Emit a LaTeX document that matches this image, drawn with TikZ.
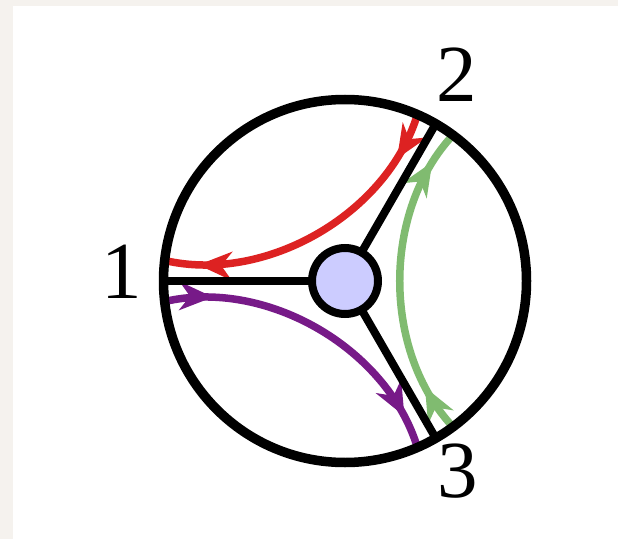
\documentclass[tikz,border=0pt]{standalone}
\usepackage{fontspec}
\setmainfont{Liberation Serif}
\usetikzlibrary{decorations.markings}
\definecolor{bgout}{HTML}{F5F2EE}
\definecolor{redp}{HTML}{DD2222}
\definecolor{greenp}{HTML}{80BB70}
\definecolor{purplep}{HTML}{771A88}
\definecolor{hubfill}{HTML}{CCCCFF}
\tikzset{
  flow/.style={line width=7.5pt, postaction={decorate},
    decoration={markings,
      mark=at position 0.15 with {\fill (1pt,0pt) -- (-33pt,14.5pt) -- (-22pt,0pt) -- (-33pt,-14.5pt) -- cycle;},
      mark=at position 0.89 with {\fill (1pt,0pt) -- (-33pt,14.5pt) -- (-22pt,0pt) -- (-33pt,-14.5pt) -- cycle;}}},
  ringstyle/.style={circle, draw=black, line width=9.5pt, minimum size=363pt, inner sep=0pt},
  hubstyle/.style={circle, draw=black, fill=hubfill, line width=8pt, minimum size=66pt, inner sep=0pt},
  spoke/.style={draw=black, line width=8pt},
  lbl/.style={inner sep=0pt, font=\fontsize{81}{81}\selectfont}
}
\begin{document}
\begin{tikzpicture}[x=1pt,y=1pt]
\fill[bgout] (0,0) rectangle (618,539);
\fill[white] (13,0) rectangle (618,533);
\coordinate (c) at (345,258);
% flows
\begin{scope}[shift={(c)},rotate=0]
  \coordinate (gs) at (-53.5:181.5);
  \coordinate (ge) at (53.5:181.5);
  \draw[flow,greenp] (gs) .. controls (37,-70) and (37,70) .. (ge);
\end{scope}
\begin{scope}[shift={(c)},rotate=120]
  \coordinate (rs) at (-53.5:181.5);
  \coordinate (re) at (53.5:181.5);
  \draw[flow,redp] (rs) .. controls (37,-70) and (37,70) .. (re);
\end{scope}
\begin{scope}[shift={(c)},rotate=240]
  \coordinate (ps) at (-53.5:181.5);
  \coordinate (pe) at (53.5:181.5);
  \draw[flow,purplep] (ps) .. controls (37,-70) and (37,70) .. (pe);
\end{scope}
% spokes
\begin{scope}[shift={(c)}]
  \coordinate (p1) at (180:181.5);
  \coordinate (p2) at (60:181.5);
  \coordinate (p3) at (-60:181.5);
\end{scope}
\draw[spoke] (c) -- (p1);
\draw[spoke] (c) -- (p2);
\draw[spoke] (c) -- (p3);
\node[ringstyle] (ring) at (c) {};
\node[hubstyle] (hub) at (c) {};
% labels
\node[lbl] (l1) at (122,267) {1};
\node[lbl] (l2) at (457,464) {2};
\node[lbl] (l3) at (458,68) {3};
\end{tikzpicture}
\end{document}
